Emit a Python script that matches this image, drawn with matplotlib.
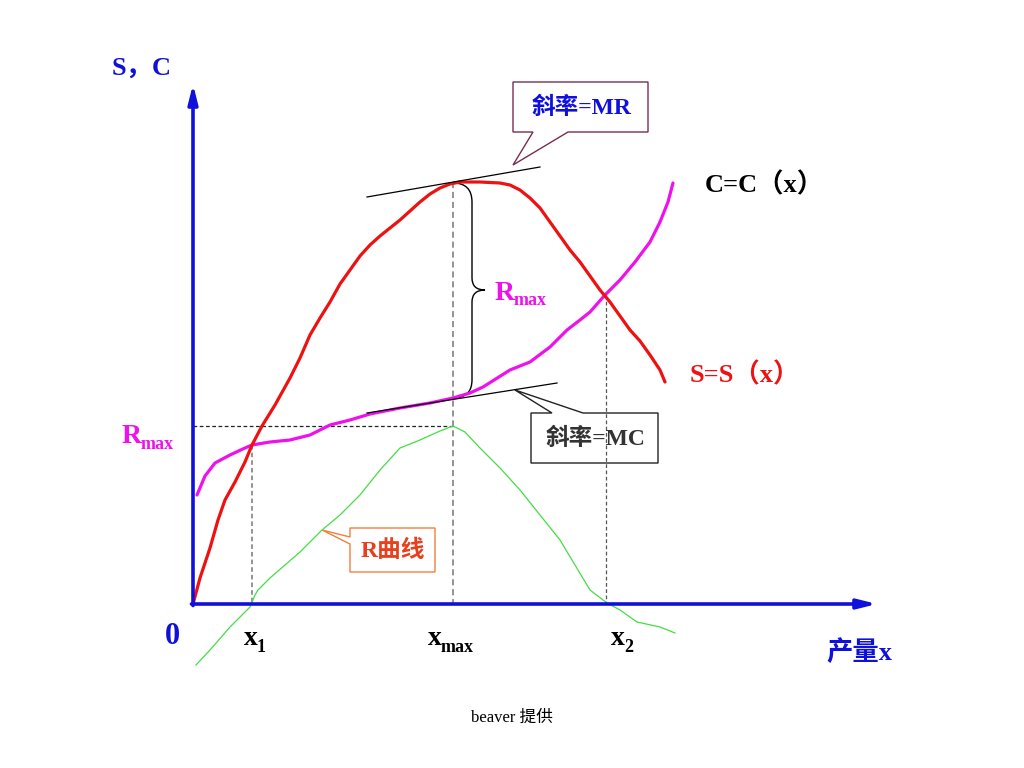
import matplotlib.pyplot as plt
from matplotlib.patches import Polygon, PathPatch
from matplotlib.path import Path

plt.rcParams['font.family'] = ['Liberation Serif', 'Noto Sans CJK SC', 'DejaVu Sans']

# curves (canvas coordinates, y grows downward)
red_x = [193, 200, 210, 218, 225, 235, 245, 252, 262, 275, 290, 300, 310, 320, 330, 340,
         350, 360, 370, 380, 390, 400, 410, 420, 430, 440, 450, 460, 480, 500, 510, 520,
         530, 540, 550, 560, 570, 580, 590, 600, 610, 620, 630, 640, 650, 660, 665]
red_y = [604, 578, 548, 520, 500, 482, 462, 445, 426, 405, 378, 358, 335, 318, 302, 284,
         270, 256, 245, 236, 228, 220, 211, 202, 194, 188, 184, 182, 182, 183, 185, 190,
         198, 208, 222, 236, 250, 262, 276, 290, 302, 316, 330, 341, 355, 370, 382]

mag_x = [197, 205, 215, 230, 245, 252, 270, 290, 310, 330, 350, 370, 400, 430, 453, 470,
         483, 510, 530, 550, 567, 580, 590, 605, 620, 635, 650, 660, 668, 673]
mag_y = [495, 476, 463, 455, 448, 445, 442, 440, 435, 425, 420, 414, 408, 403, 398, 393,
         387, 370, 362, 347, 330, 320, 312, 295, 280, 262, 242, 222, 202, 183]

grn_x = [196, 210, 230, 250, 255, 258, 270, 285, 300, 322, 340, 360, 380, 400, 420, 440,
         453, 465, 480, 500, 520, 540, 560, 575, 590, 607, 620, 637, 660, 675]
grn_y = [665, 650, 627, 607, 595, 590, 578, 565, 552, 530, 515, 495, 470, 448, 440, 431,
         426, 432, 448, 468, 490, 515, 540, 565, 590, 603, 610, 622, 627, 633]

x1, xmax, x2 = 252, 453, 606
rmax_y = 426
orig_x, orig_y = 193, 604

blue = '#1010dd'
red = '#ee1111'
magenta = '#ee11ee'
green = '#44dd44'

fig = plt.figure(figsize=(10.24, 7.68), dpi=100)
ax = fig.add_axes([0, 0, 1, 1])
ax.set_xlim(0, 1024)
ax.set_ylim(768, 0)
ax.axis('off')

# dashed guides
ax.plot([orig_x, xmax], [rmax_y, rmax_y], ls=(0, (3, 2)), color='#222222', lw=0.9)
ax.plot([xmax, xmax], [182, orig_y], ls=(0, (4, 2.5)), color='#777777', lw=1.1)
ax.plot([x1, x1], [445, orig_y], ls=(0, (3, 2)), color='#777777', lw=1.1)
ax.plot([x2, x2], [295, orig_y], ls=(0, (3, 2)), color='#555555', lw=0.9)

# curves
ax.plot(grn_x, grn_y, color=green, lw=0.9)
ax.plot(mag_x, mag_y, color=magenta, lw=2.3, solid_capstyle='round')
ax.plot(red_x, red_y, color=red, lw=2.3, solid_capstyle='round')

# tangent lines
ax.plot([367, 540], [197, 167], color='black', lw=0.9)
ax.plot([367, 557], [413, 383], color='black', lw=0.9)

# axes arrows
arrow = dict(arrowstyle='-|>,head_length=0.8,head_width=0.2', color=blue, lw=2.6,
             mutation_scale=14, shrinkA=0, shrinkB=0)
ax.annotate('', xy=(orig_x, 84), xytext=(orig_x, orig_y + 1.5), arrowprops=arrow)
ax.annotate('', xy=(877, orig_y), xytext=(orig_x - 1.5, orig_y), arrowprops=arrow)

# brace
verts = [(453, 183), (472, 183), (472, 202), (472, 278), (472, 290), (485, 290),
         (472, 290), (472, 302), (472, 380), (472, 398), (453, 398)]
codes = [Path.MOVETO, Path.CURVE3, Path.CURVE3, Path.LINETO, Path.CURVE3, Path.CURVE3,
         Path.CURVE3, Path.CURVE3, Path.LINETO, Path.CURVE3, Path.CURVE3]
ax.add_patch(PathPatch(Path(verts, codes), fill=False, lw=1.0, color='black'))

# callouts
ax.add_patch(Polygon([(513, 82), (648, 82), (648, 132), (568, 132), (513, 165),
                      (533, 132), (513, 132)], closed=True, fc='white', ec='#7b2c52', lw=1.0))
ax.add_patch(Polygon([(531, 413), (552, 413), (515, 390), (583, 413), (658, 413),
                      (658, 463), (531, 463)], closed=True, fc='white', ec='#222222', lw=1.0))
ax.add_patch(Polygon([(350, 528), (435, 528), (435, 572), (350, 572), (350, 544),
                      (322, 530), (350, 537)], closed=True, fc='white', ec='#f08040', lw=1.0))

ax.text(581, 108, '斜率=MR', color=blue, fontsize=17, fontweight='bold', ha='center', va='center')
ax.text(595, 439, '斜率=MC', color='#333333', fontsize=17, fontweight='bold', ha='center', va='center')
ax.text(393, 551, 'R曲线', color='#e8401e', fontsize=17, fontweight='bold', ha='center', va='center')

# labels
ax.text(142, 68, 'S，C', color=blue, fontsize=19, fontweight='bold', ha='center', va='center')
ax.text(705, 185, 'C=C（x）', color='black', fontsize=19, fontweight='bold', ha='left', va='center')
ax.text(690, 375, 'S=S（x）', color=red, fontsize=19, fontweight='bold', ha='left', va='center')
ax.text(495, 300, 'R', color=magenta, fontsize=20, fontweight='bold', ha='left', va='baseline')
ax.text(514, 305, 'max', color=magenta, fontsize=13, fontweight='bold', ha='left', va='baseline')
ax.text(122, 443, 'R', color=magenta, fontsize=20, fontweight='bold', ha='left', va='baseline')
ax.text(141, 449, 'max', color=magenta, fontsize=13, fontweight='bold', ha='left', va='baseline')
ax.text(172, 636, '0', color=blue, fontsize=22, fontweight='bold', ha='center', va='center')
ax.text(244, 645, 'x', color='black', fontsize=20, fontweight='bold', ha='left', va='baseline')
ax.text(257, 652, '1', color='black', fontsize=13, fontweight='bold', ha='left', va='baseline')
ax.text(428, 645, 'x', color='black', fontsize=20, fontweight='bold', ha='left', va='baseline')
ax.text(441, 652, 'max', color='black', fontsize=13, fontweight='bold', ha='left', va='baseline')
ax.text(611, 645, 'x', color='black', fontsize=20, fontweight='bold', ha='left', va='baseline')
ax.text(624, 652, '2', color='black', fontsize=13, fontweight='bold', ha='left', va='baseline')
ax.text(859, 652, '产量x', color=blue, fontsize=19, fontweight='bold', ha='center', va='center')
ax.text(512, 718, 'beaver 提供', color='black', fontsize=12, ha='center', va='center')

fig.savefig('out.png', dpi=100)
